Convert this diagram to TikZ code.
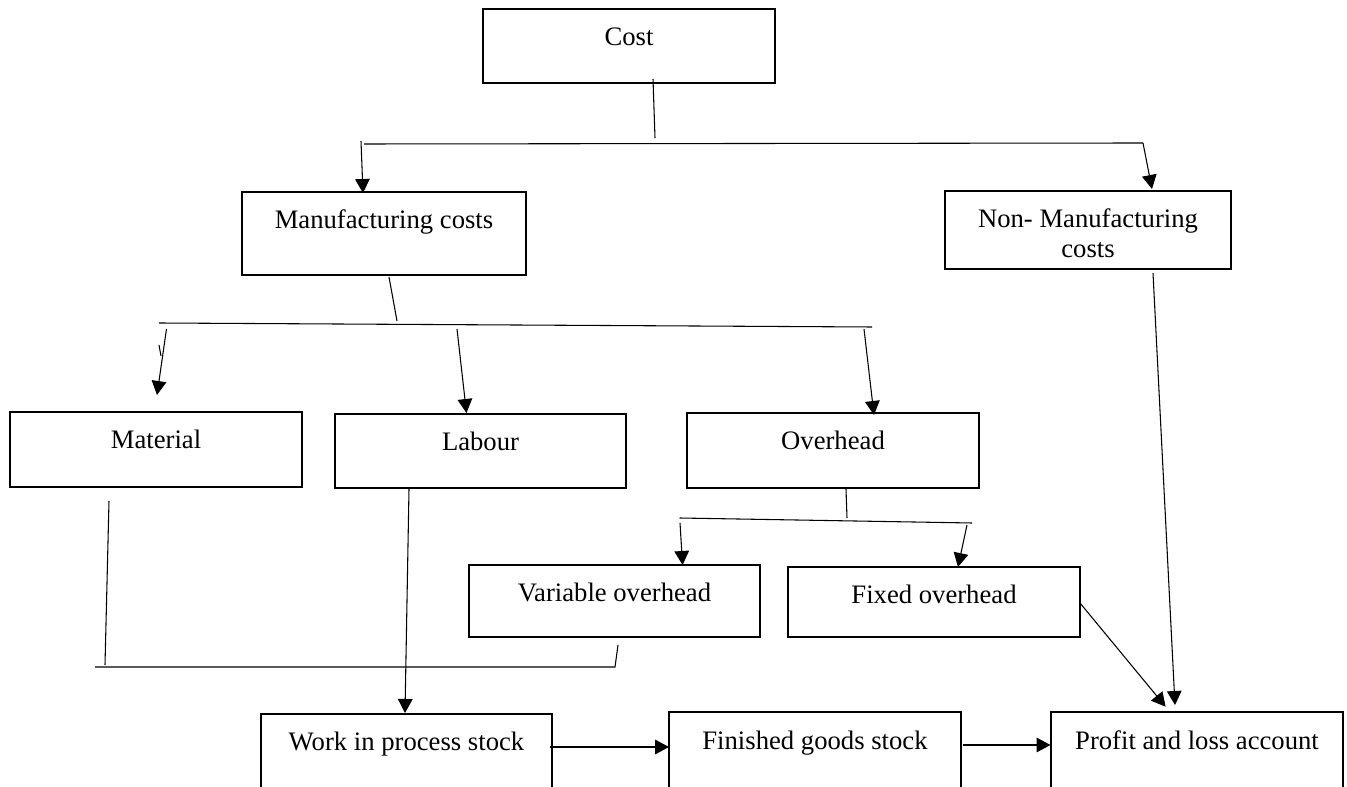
\documentclass[tikz,border=0pt]{standalone}
\usepackage{fontspec}
\setmainfont{Liberation Serif}
\usetikzlibrary{arrows.meta}
\begin{document}
\begin{tikzpicture}[x=0.75pt,y=-0.75pt,
  box/.style={draw, line width=1.9pt, inner sep=0pt, outer sep=0pt, anchor=north west, font=\fontsize{20pt}{22.5pt}\selectfont},
  conn/.style={line width=0.8pt},
  arr/.style={conn, -{Triangle[length=10.5pt,width=11pt]}},
  txt/.style={anchor=base, yshift=-27.75pt, align=center, font=\fontsize{20pt}{22.5pt}\selectfont}]
\useasboundingbox (0,0) rectangle (1347,787);
% boxes
\node[box, minimum width=219pt, minimum height=55.5pt, label={[txt]north:Cost}] (cost) at (483,9) {};
\node[box, minimum width=213pt, minimum height=62.25pt, label={[txt]north:Manufacturing costs}] (mfg) at (242,192) {};
\node[box, minimum width=214.5pt, minimum height=58.5pt, label={[txt, yshift=-22.5pt]north:Non- Manufacturing\\costs}] (nonmfg) at (945,191) {};
\node[box, minimum width=219pt, minimum height=56.25pt, label={[txt]north:Material}] (mat) at (10,412) {};
\node[box, minimum width=218.25pt, minimum height=55.5pt, label={[txt]north:Labour}] (lab) at (335,414) {};
\node[box, minimum width=219pt, minimum height=56.25pt, label={[txt]north:Overhead}] (ovh) at (687,413) {};
\node[box, minimum width=218.25pt, minimum height=54pt, label={[txt]north:Variable overhead}] (var) at (469,565) {};
\node[box, minimum width=219pt, minimum height=52.5pt, label={[txt]north:Fixed overhead}] (fix) at (788,567) {};
\node[box, minimum width=218.25pt, minimum height=66pt, label={[txt]north:Work in process stock}] (wip) at (261,714) {};
\node[box, minimum width=219pt, minimum height=66pt, label={[txt]north:Finished goods stock}] (fin) at (669,712) {};
\node[box, minimum width=219pt, minimum height=66pt, label={[txt]north:Profit and loss account}] (pl) at (1051,712) {};
% junction coordinates
\coordinate (cs1) at (653,79);   \coordinate (cs2) at (655,138);
\coordinate (h1a) at (364,144);  \coordinate (h1b) at (1143,143);
\coordinate (h1l) at (361,141);
\coordinate (mt1) at (1152,189); \coordinate (mt2) at (363,193);
\coordinate (ms1) at (389,277);  \coordinate (ms2) at (397,321);
\coordinate (h2a) at (159,323);  \coordinate (h2b) at (872,327);
\coordinate (ma1) at (166.5,329); \coordinate (ma2) at (157,395);
\coordinate (tk1) at (159,345);  \coordinate (tk2) at (161,356);
\coordinate (la1) at (457,329);  \coordinate (la2) at (466.5,413);
\coordinate (oa1) at (864,329);  \coordinate (oa2) at (874,415);
\coordinate (os1) at (846,489);  \coordinate (os2) at (847,518);
\coordinate (h3a) at (679.5,518); \coordinate (h3b) at (972,523);
\coordinate (va1) at (680,523);  \coordinate (va2) at (682.6,565);
\coordinate (fa1) at (967,525);  \coordinate (fa2) at (958,567);
\coordinate (fp1) at (1080,603); \coordinate (fp2) at (1165.6,706.7);
\coordinate (np1) at (1153,273); \coordinate (np2) at (1175,705);
\coordinate (mts1) at (109,501); \coordinate (mts2) at (105,665);
\coordinate (h4a) at (95,667);   \coordinate (h4b) at (615,667); \coordinate (h4c) at (618,645);
\coordinate (lw1) at (409,489);  \coordinate (lw2) at (405,713);
\coordinate (wf1) at (550,747);  \coordinate (wf2) at (669,747);
\coordinate (fpl1) at (962.5,745); \coordinate (fpl2) at (1050.5,745);
% connectors
\draw[conn] (cs1) -- (cs2);
\draw[conn] (h1a) -- (h1b);
\draw[arr] (h1b) -- (mt1);
\draw[arr] (h1l) -- (mt2);
\draw[conn] (ms1) -- (ms2);
\draw[conn] (h2a) -- (h2b);
\draw[arr] (ma1) -- (ma2);
\draw[conn] (tk1) -- (tk2);
\draw[arr] (la1) -- (la2);
\draw[arr] (oa1) -- (oa2);
\draw[conn] (os1) -- (os2);
\draw[conn] (h3a) -- (h3b);
\draw[arr] (va1) -- (va2);
\draw[arr] (fa1) -- (fa2);
\draw[arr] (fp1) -- (fp2);
\draw[arr] (np1) -- (np2);
\draw[conn] (mts1) -- (mts2);
\draw[conn] (h4a) -- (h4b) -- (h4c);
\draw[arr] (lw1) -- (lw2);
\draw[arr] (wf1) -- (wf2);
\draw[arr] (fpl1) -- (fpl2);
\end{tikzpicture}
\end{document}
